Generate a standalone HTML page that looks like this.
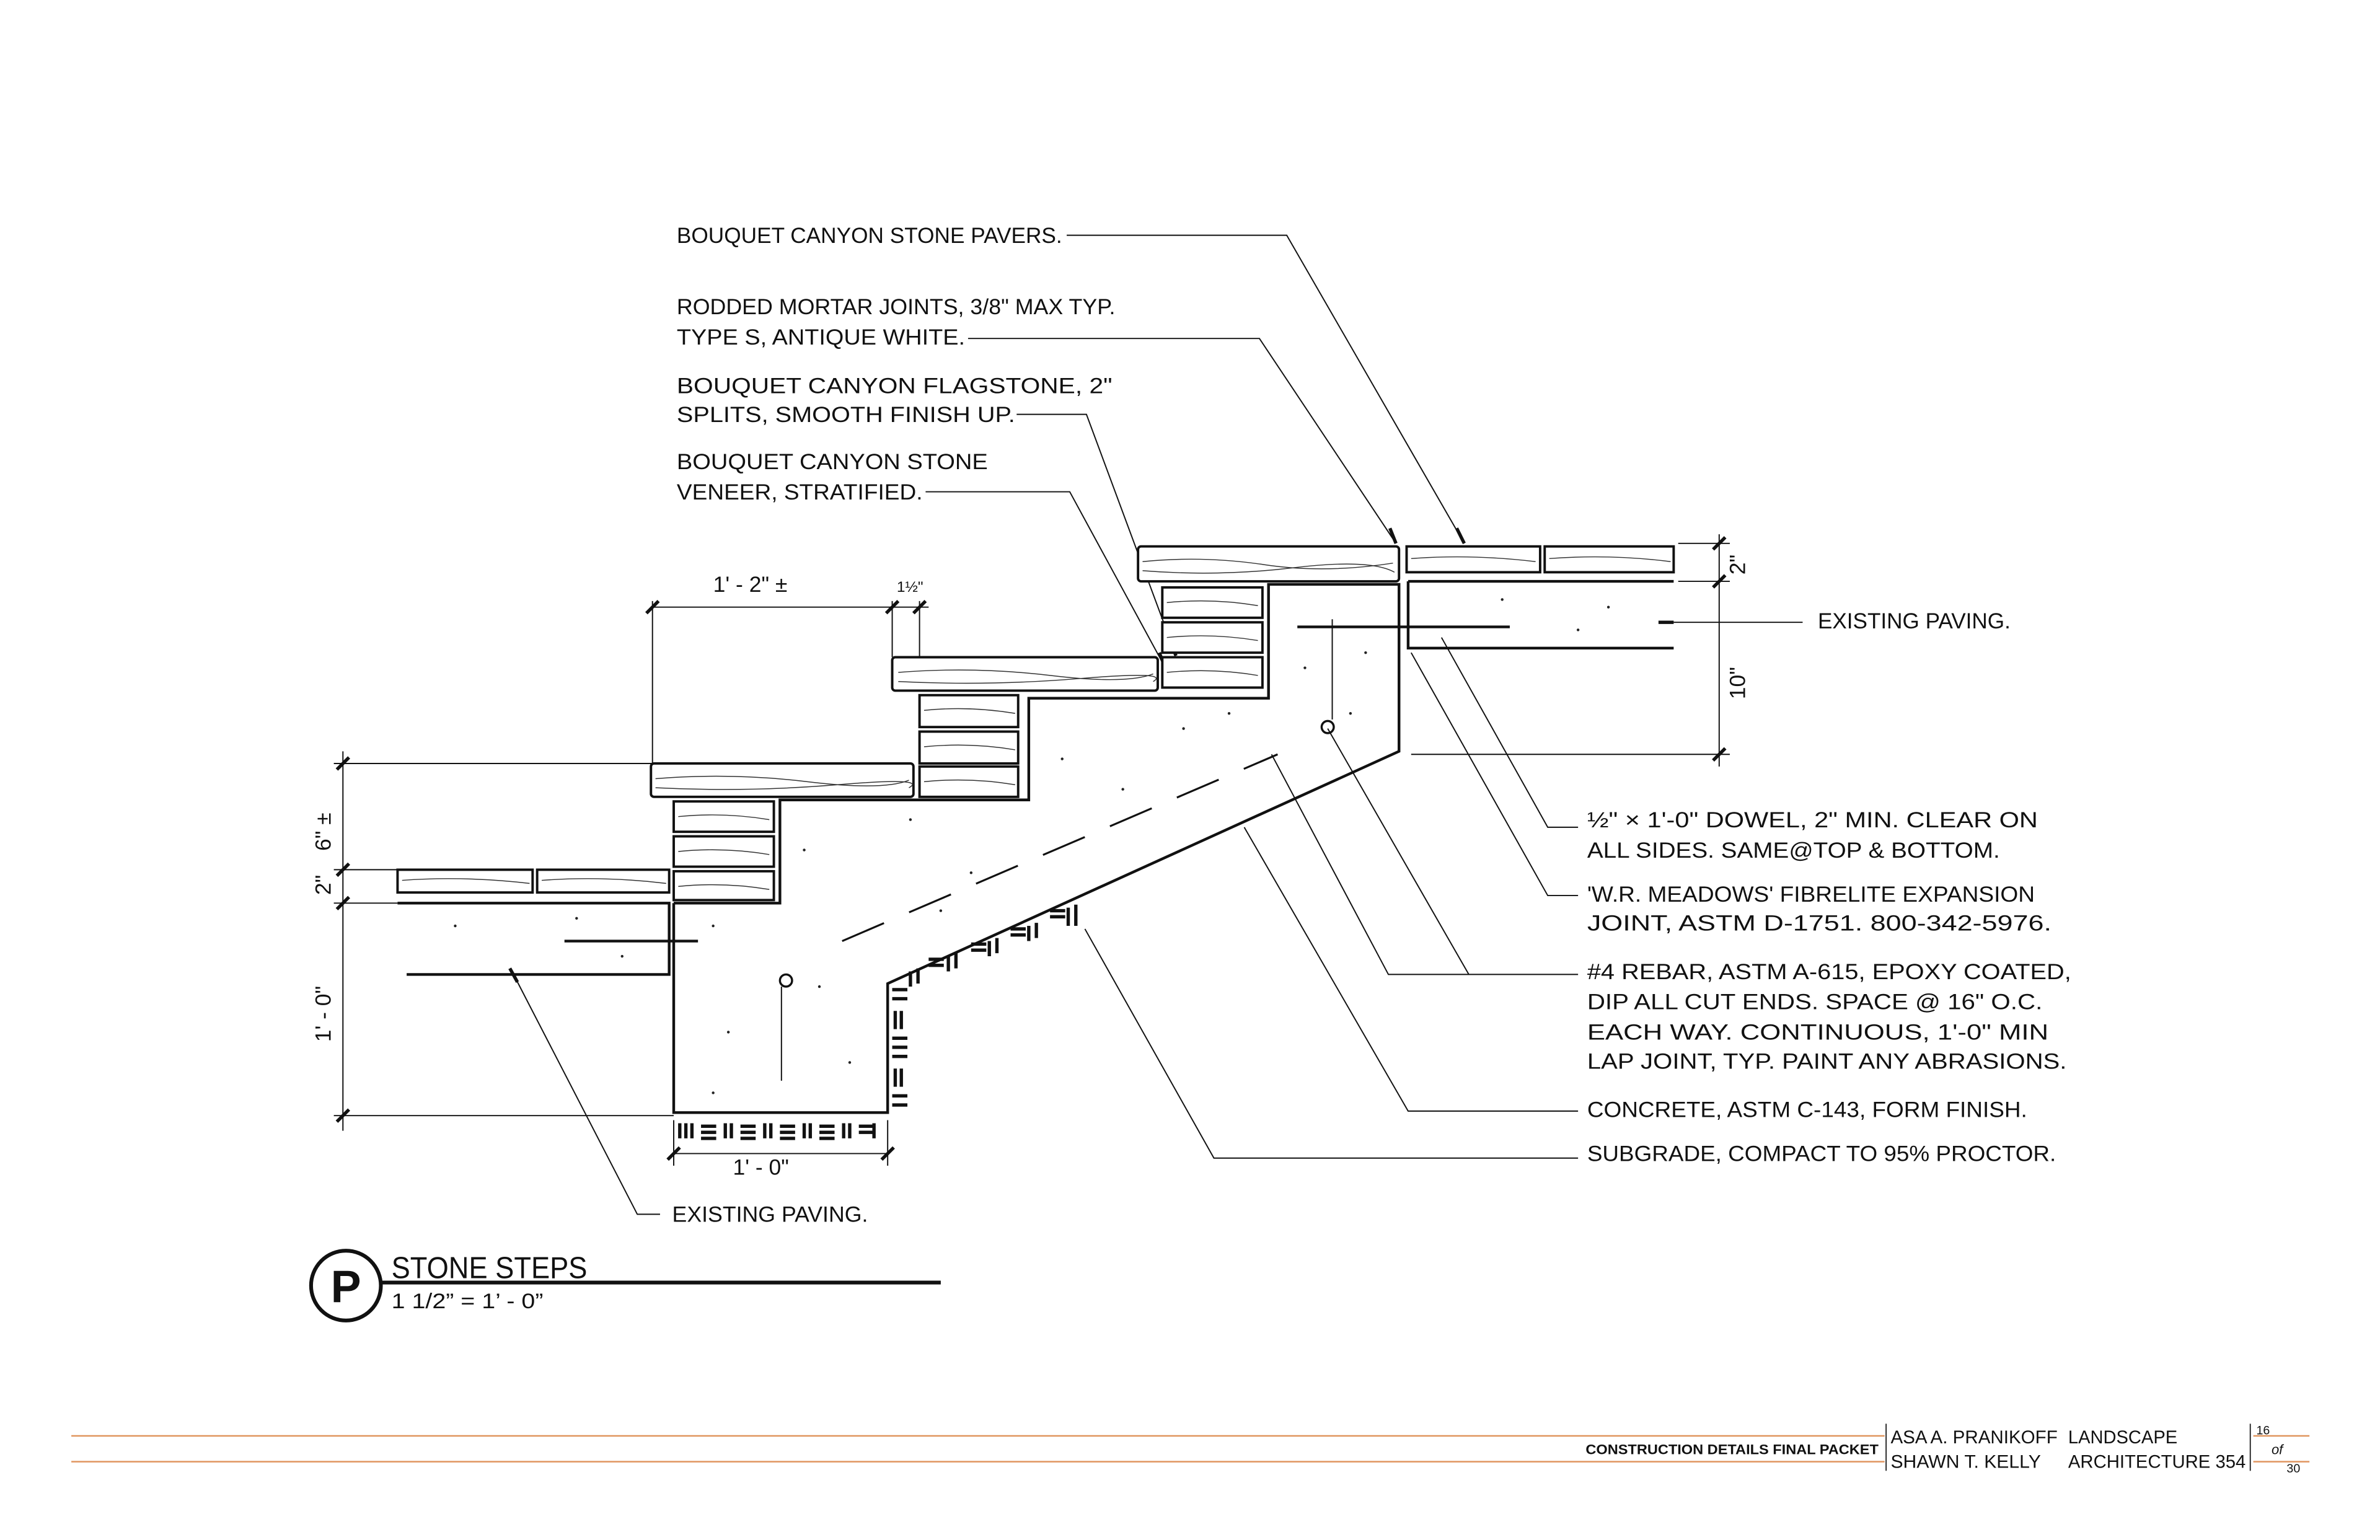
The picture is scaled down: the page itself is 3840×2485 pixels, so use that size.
<!DOCTYPE html>
<html><head><meta charset="utf-8"><style>
html,body{margin:0;padding:0;background:#fff;}
svg{display:block;}
text{font-family:"Liberation Sans",sans-serif;fill:#111;}
.h{font-size:14.5px;}
</style></head><body>
<svg width="3840" height="2485" viewBox="0 0 1568.5 1014.6" preserveAspectRatio="none" xmlns="http://www.w3.org/2000/svg">
<g stroke="#111" fill="none" stroke-width="0.8">
<polyline points="703,155 848,155 965,358"/>
<polyline points="638,223 830,223 920,358"/>
<polyline points="670,273 716,273 775,432"/>
<polyline points="610,324 705,324 768,440"/>
<polyline points="1040,545 1020,545 950,420"/>
<polyline points="1040,590 1020,590 930,430"/>
<polyline points="968,642 875,480"/>
<polyline points="1040,642 915,642 838,497"/>
<polyline points="1040,732 928,732 820,545"/>
<polyline points="1040,763 800,763 715,612"/>
<line x1="1103" y1="410" x2="1188" y2="410"/>
<polyline points="435,800 420,800 340,645"/>
<line x1="430" y1="400" x2="612" y2="400"/>
<line x1="430" y1="396" x2="430" y2="503"/>
<line x1="588" y1="396" x2="588" y2="433"/>
<line x1="606" y1="396" x2="606" y2="455"/>
<line x1="226" y1="495" x2="226" y2="745"/>
<line x1="220" y1="503" x2="430" y2="503"/>
<line x1="220" y1="573" x2="262" y2="573"/>
<line x1="220" y1="595" x2="262" y2="595"/>
<line x1="220" y1="735" x2="444" y2="735"/>
<line x1="1133" y1="352" x2="1133" y2="505"/>
<line x1="1106" y1="358" x2="1140" y2="358"/>
<line x1="1106" y1="383" x2="1140" y2="383"/>
<line x1="930" y1="497" x2="1140" y2="497"/>
<line x1="444" y1="760" x2="585" y2="760"/>
<line x1="444" y1="738" x2="444" y2="768"/>
<line x1="585" y1="738" x2="585" y2="768"/>
</g>
<g stroke="#111" stroke-width="2.2">
<line x1="426" y1="404" x2="434" y2="396"/><line x1="584" y1="404" x2="592" y2="396"/><line x1="602" y1="404" x2="610" y2="396"/>
<line x1="222" y1="507" x2="230" y2="499"/><line x1="222" y1="577" x2="230" y2="569"/><line x1="222" y1="599" x2="230" y2="591"/><line x1="222" y1="739" x2="230" y2="731"/>
<line x1="1129" y1="362" x2="1137" y2="354"/><line x1="1129" y1="387" x2="1137" y2="379"/><line x1="1129" y1="501" x2="1137" y2="493"/>
<line x1="440" y1="764" x2="448" y2="756"/><line x1="581" y1="764" x2="589" y2="756"/>
<line x1="960" y1="348" x2="965" y2="358"/><line x1="916" y1="348" x2="920" y2="358"/><line x1="771" y1="422" x2="775" y2="432"/><line x1="764" y1="430" x2="768" y2="440"/>
<line x1="336" y1="638" x2="341" y2="647"/><line x1="1093" y1="410" x2="1103" y2="410"/>
</g>
<g stroke="#111" stroke-width="1.6" fill="#fff">
<rect x="750" y="360" width="172" height="23" rx="2"/>
<rect x="927" y="360" width="88" height="17"/>
<rect x="1018" y="360" width="85" height="17"/>
<rect x="588" y="433" width="175" height="22" rx="2"/>
<rect x="429" y="503" width="173" height="22" rx="2"/>
<rect x="262" y="573" width="89" height="15"/>
<rect x="354" y="573" width="87" height="15"/>
<rect x="766" y="387" width="66" height="20"/><rect x="766" y="410" width="66" height="20"/><rect x="766" y="433" width="66" height="20"/>
<rect x="606" y="458" width="65" height="21"/><rect x="606" y="482" width="65" height="21"/><rect x="606" y="505" width="65" height="20"/>
<rect x="444" y="528" width="66" height="20"/><rect x="444" y="551" width="66" height="20"/><rect x="444" y="574" width="66" height="19"/>
</g>
<g stroke="#333" stroke-width="0.6" fill="none">
<path d="M753,370 q40,-4 80,2 t85,-1"/><path d="M753,376 q50,4 100,-2 t66,3"/>
<path d="M592,443 q50,-4 100,2 t68,-1"/><path d="M592,449 q60,3 120,-2 t48,2"/>
<path d="M432,513 q50,-4 100,2 t67,-1"/><path d="M432,519 q60,3 120,-2 t47,2"/>
<path d="M930,368 q40,-3 82,2"/><path d="M1021,368 q40,-3 80,2"/><path d="M265,580 q40,-3 84,2"/><path d="M357,580 q40,-3 82,2"/>
<path d="M769,397 q30,-3 60,2"/><path d="M769,420 q30,-3 60,2"/><path d="M769,443 q30,-3 60,2"/>
<path d="M609,468 q30,-3 60,2"/><path d="M609,492 q30,-3 60,2"/><path d="M609,515 q30,-3 60,2"/>
<path d="M447,538 q30,-3 60,2"/><path d="M447,561 q30,-3 60,2"/><path d="M447,584 q30,-3 60,2"/>
</g>
<g stroke="#111" stroke-width="1.8" fill="none">
<polyline points="444,595 444,733 585,733 585,648 922,495 922,385 836,385 836,460 678,460 678,527 514,527 514,595 444,595"/>
<polyline points="262,595 441,595 441,642 268,642"/>
<polyline points="928,383 928,427 1103,427"/>
<line x1="928" y1="383" x2="1103" y2="383"/>
<line x1="372" y1="620" x2="460" y2="620"/>
<line x1="855" y1="413" x2="995" y2="413"/>
</g>
<g stroke="#111" stroke-width="1.3" stroke-dasharray="30,18">
<line x1="555" y1="620" x2="842" y2="497"/>
</g>
<g fill="#222">
<circle cx="470" cy="610" r="0.9"/><circle cx="530" cy="560" r="0.9"/><circle cx="600" cy="540" r="0.9"/><circle cx="640" cy="575" r="0.9"/><circle cx="700" cy="500" r="0.9"/><circle cx="740" cy="520" r="0.9"/><circle cx="780" cy="480" r="0.9"/><circle cx="810" cy="470" r="0.9"/><circle cx="860" cy="440" r="0.9"/><circle cx="900" cy="430" r="0.9"/><circle cx="480" cy="680" r="0.9"/><circle cx="560" cy="700" r="0.9"/><circle cx="470" cy="720" r="0.9"/><circle cx="540" cy="650" r="0.9"/><circle cx="620" cy="600" r="0.9"/><circle cx="300" cy="610" r="0.9"/><circle cx="380" cy="605" r="0.9"/><circle cx="410" cy="630" r="0.9"/><circle cx="990" cy="395" r="0.9"/><circle cx="1060" cy="400" r="0.9"/><circle cx="1040" cy="415" r="0.9"/><circle cx="890" cy="470" r="0.9"/>
</g>
<circle cx="518" cy="646" r="4" fill="none" stroke="#111" stroke-width="1.4"/>
<circle cx="875" cy="479" r="4" fill="none" stroke="#111" stroke-width="1.4"/>
<line x1="515" y1="650" x2="515" y2="712" stroke="#111" stroke-width="0.8"/>
<line x1="878" y1="408" x2="878" y2="474" stroke="#111" stroke-width="0.8"/>
<g stroke="#111" stroke-width="2.2">
<path d="M448,740v10M452,740v10M456,740v10M462,742h10M462,746h10M462,750h10M478,740v10M482,740v10M488,742h10M488,746h10M488,750h10M504,740v10M508,740v10M514,742h10M514,746h10M514,750h10M530,740v10M534,740v10M540,742h10M540,746h10M540,750h10M556,740v10M560,740v10M566,742h10M566,746h10M576,740v10"/>
<path d="M588,652h10M588,658h10M590,666v12M594,666v12M588,684h10M588,690h10M588,696h10M590,704v12M594,704v12M588,722h10M588,728h10"/>
<path d="M600,640v10M605,638v10M612,632h10M612,636h10M625,630v10M630,628v10M640,622h10M640,626h10M652,620v10M657,618v10M666,612h10M666,616h10M678,610v10M683,608v10M692,600h10M692,604h10M704,598v12M709,596v14"/>
</g>
<g class="h">
<text x="446" y="160" textLength="254" lengthAdjust="spacingAndGlyphs">BOUQUET CANYON  STONE PAVERS.</text>
<text x="446" y="207" textLength="289" lengthAdjust="spacingAndGlyphs">RODDED MORTAR JOINTS, 3/8" MAX TYP.</text>
<text x="446" y="227" textLength="190" lengthAdjust="spacingAndGlyphs">TYPE S, ANTIQUE WHITE.</text>
<text x="446" y="259" textLength="287" lengthAdjust="spacingAndGlyphs">BOUQUET CANYON FLAGSTONE, 2"</text>
<text x="446" y="278" textLength="223" lengthAdjust="spacingAndGlyphs">SPLITS, SMOOTH FINISH UP.</text>
<text x="446" y="309" textLength="205" lengthAdjust="spacingAndGlyphs">BOUQUET CANYON STONE</text>
<text x="446" y="329" textLength="162" lengthAdjust="spacingAndGlyphs">VENEER, STRATIFIED.</text>
<text x="1198" y="414" textLength="127" lengthAdjust="spacingAndGlyphs">EXISTING PAVING.</text>
<text x="1046" y="545" textLength="297" lengthAdjust="spacingAndGlyphs">½" × 1'-0" DOWEL, 2" MIN. CLEAR  ON</text>
<text x="1046" y="565" textLength="272" lengthAdjust="spacingAndGlyphs">ALL SIDES.   SAME@TOP &amp; BOTTOM.</text>
<text x="1046" y="594" textLength="295" lengthAdjust="spacingAndGlyphs">'W.R. MEADOWS' FIBRELITE EXPANSION</text>
<text x="1046" y="613" textLength="306" lengthAdjust="spacingAndGlyphs">JOINT, ASTM D-1751.  800-342-5976.</text>
<text x="1046" y="645" textLength="319" lengthAdjust="spacingAndGlyphs">#4 REBAR, ASTM A-615, EPOXY COATED,</text>
<text x="1046" y="665" textLength="300" lengthAdjust="spacingAndGlyphs">DIP ALL CUT ENDS.  SPACE @ 16" O.C.</text>
<text x="1046" y="685" textLength="304" lengthAdjust="spacingAndGlyphs">EACH WAY.  CONTINUOUS, 1'-0" MIN</text>
<text x="1046" y="704" textLength="316" lengthAdjust="spacingAndGlyphs">LAP JOINT, TYP.  PAINT ANY ABRASIONS.</text>
<text x="1046" y="736" textLength="290" lengthAdjust="spacingAndGlyphs">CONCRETE, ASTM C-143, FORM FINISH.</text>
<text x="1046" y="765" textLength="309" lengthAdjust="spacingAndGlyphs">SUBGRADE, COMPACT TO 95%  PROCTOR.</text>
<text x="443" y="805" textLength="129" lengthAdjust="spacingAndGlyphs">EXISTING PAVING.</text>
<text x="470" y="390">1' - 2" ±</text>
<text x="591" y="390" font-size="10">1½"</text>
<text x="483" y="774">1' - 0"</text>
<text transform="translate(1150,372) rotate(-90)" text-anchor="middle">2"</text>
<text transform="translate(1150,450) rotate(-90)" text-anchor="middle">10"</text>
<text transform="translate(218,548) rotate(-90)" text-anchor="middle">6" ±</text>
<text transform="translate(218,583) rotate(-90)" text-anchor="middle">2"</text>
<text transform="translate(218,668) rotate(-90)" text-anchor="middle">1' - 0"</text>
</g>
<circle cx="228" cy="847" r="23" fill="none" stroke="#111" stroke-width="2.5"/>
<text x="228" y="858" font-size="30" font-weight="bold" text-anchor="middle">P</text>
<text x="258" y="842" font-size="20" textLength="129" lengthAdjust="spacingAndGlyphs">STONE STEPS</text>
<line x1="251" y1="845" x2="620" y2="845" stroke="#111" stroke-width="2.5"/>
<text x="258" y="862" font-size="14" textLength="100" lengthAdjust="spacingAndGlyphs">1 1/2” = 1’ - 0”</text>
<g stroke="#e0955e" stroke-width="1">
<line x1="47" y1="946" x2="1242" y2="946"/><line x1="47" y1="963" x2="1242" y2="963"/>
<line x1="1485" y1="946" x2="1522" y2="946"/><line x1="1485" y1="963" x2="1522" y2="963"/>
</g>
<line x1="1243" y1="938" x2="1243" y2="969" stroke="#111" stroke-width="0.7"/>
<line x1="1483" y1="938" x2="1483" y2="969" stroke="#111" stroke-width="0.7"/>
<text x="1045" y="958" font-size="9" font-weight="bold" textLength="193" lengthAdjust="spacingAndGlyphs">CONSTRUCTION DETAILS FINAL PACKET</text>
<text x="1246" y="951" font-size="12" textLength="110" lengthAdjust="spacingAndGlyphs">ASA A. PRANIKOFF</text>
<text x="1363" y="951" font-size="12" textLength="72" lengthAdjust="spacingAndGlyphs">LANDSCAPE</text>
<text x="1246" y="967" font-size="12" textLength="99" lengthAdjust="spacingAndGlyphs">SHAWN T. KELLY</text>
<text x="1363" y="967" font-size="12" textLength="117" lengthAdjust="spacingAndGlyphs">ARCHITECTURE 354</text>
<text x="1487" y="945" font-size="8" font-family="Liberation Serif">16</text>
<text x="1497" y="958" font-size="9" font-style="italic" font-family="Liberation Serif">of</text>
<text x="1507" y="970" font-size="8" font-family="Liberation Serif">30</text>
</svg>
</body></html>
